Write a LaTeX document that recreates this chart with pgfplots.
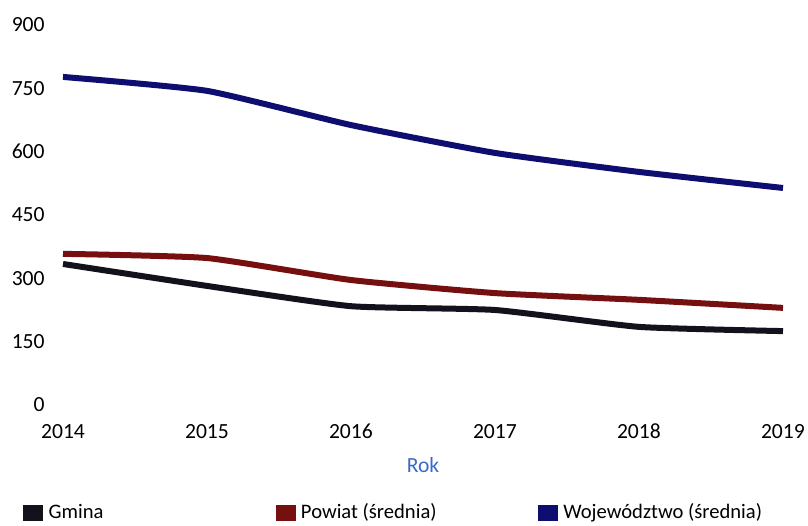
\documentclass[border=0pt]{standalone}
\usepackage{fontspec}
\setmainfont{Carlito}
\usepackage{pgfplots}
\pgfplotsset{compat=1.18}
\definecolor{gminac}{RGB}{18,18,28}
\definecolor{powiatc}{RGB}{118,16,16}
\definecolor{wojc}{RGB}{14,14,112}
\definecolor{rokc}{RGB}{60,105,200}
\begin{document}
\fontsize{10.8}{13}\selectfont
\begin{tikzpicture}
\begin{axis}[
  scale only axis,
  width=360pt, height=190pt,
  xmin=2014, xmax=2019, ymin=0, ymax=900,
  clip=false,
  axis line style={draw=none},
  major tick length=0pt,
  xtick={2014,...,2019},
  ytick={0,150,300,450,600,750,900},
  xticklabel style={anchor=north, inner sep=0pt, yshift=-9pt, text height=1.45ex, text depth=0pt, /pgf/number format/1000 sep={}},
  yticklabel style={anchor=east, inner sep=0pt, xshift=-9pt},
  /pgf/number format/assume math mode=true,
  tick label style={font=\fontsize{10.8}{13}\selectfont},
  xlabel={Rok},
  xlabel style={at={(axis description cs:0.5,0)}, anchor=center, yshift=-30pt, text=rokc, font=\fontsize{10.8}{13}\selectfont},
  legend columns=3,
  legend style={at={(axis description cs:0,0)}, anchor=west, xshift=-23pt, yshift=-54pt, draw=none, fill=none, font=\fontsize{10.3}{12}\selectfont, nodes={inner xsep=2.6pt}, /tikz/every even column/.append style={column sep=4pt}},
  legend image code/.code={\fill[#1] (0pt,-2.3pt) rectangle (7pt,2.3pt);},
  every axis plot/.append style={line width=3pt, smooth, tension=0.3},
]
\addplot[color=gminac] coordinates {(2014,334) (2015,282) (2016,234) (2017,225) (2018,185) (2019,175)};
\addlegendentry{\makebox[107pt][l]{Gmina}}
\addplot[color=powiatc] coordinates {(2014,358) (2015,348) (2016,296) (2017,265) (2018,249) (2019,230)};
\addlegendentry{\makebox[112pt][l]{Powiat (średnia)}}
\addplot[color=wojc] coordinates {(2014,777) (2015,744) (2016,663) (2017,597) (2018,552) (2019,514)};
\addlegendentry{Województwo (średnia)}
\end{axis}
\pgfresetboundingbox
\path ([xshift=-31.5pt,yshift=-60.5pt]current axis.south west) rectangle ([xshift=12.5pt,yshift=12.5pt]current axis.north east);
\end{tikzpicture}
\end{document}
